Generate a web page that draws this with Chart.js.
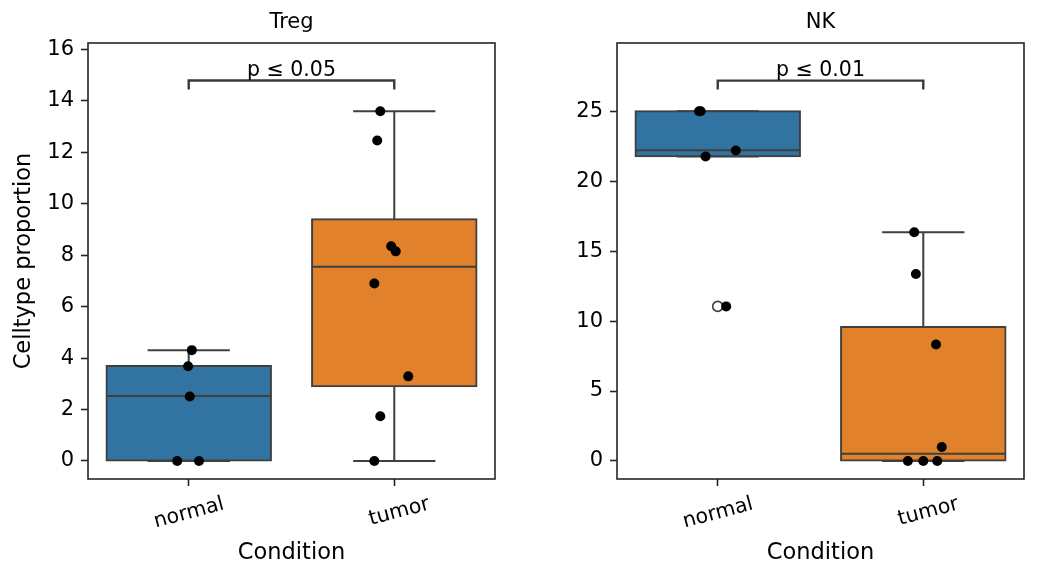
<!DOCTYPE html>
<html>
<head>
<meta charset="utf-8">
<script src="https://cdn.jsdelivr.net/npm/chart.js@4.4.1/dist/chart.umd.min.js"></script>
<style>
  html, body { margin: 0; padding: 0; background: #fff; }
  #wrap { position: relative; width: 1039px; height: 578px; }
  .panel { position: absolute; top: 0; }
</style>
</head>
<body>
<div id="wrap">
  <div class="panel" style="left:0"><canvas id="tregChart" width="520" height="578"></canvas></div>
  <div class="panel" style="left:530px"><canvas id="nkChart" width="509" height="578"></canvas></div>
</div>
<script>
// categories shared by both panels
const categories = ['normal', 'tumor'];

// Treg box statistics (normal, tumor)
const tregQ1 = [0, 2.91];
const tregMedian = [2.53, 7.55];
const tregQ3 = [3.69, 9.40];
const tregWhiskerLow = [0, 0];
const tregWhiskerHigh = [4.31, 13.60];
const tregOutliers = [[], []];

// Treg strip points + horizontal jitter
const tregNormalValues = [4.31, 3.68, 2.51, 0, 0];
const tregNormalJitter = [0.015, -0.003, 0.005, -0.056, 0.05];
const tregTumorValues = [13.60, 12.46, 8.35, 8.15, 6.90, 3.29, 1.74, 0];
const tregTumorJitter = [-0.068, -0.083, -0.015, 0.007, -0.097, 0.068, -0.068, -0.097];

// NK box statistics (normal, tumor)
const nkQ1 = [21.79, 0];
const nkMedian = [22.21, 0.52];
const nkQ3 = [25.0, 9.57];
const nkWhiskerLow = [21.76, 0];
const nkWhiskerHigh = [25.0, 16.35];
const nkOutliers = [[11.05], []];

// NK strip points
const nkNormalValues = [25.0, 25.0, 21.76, 22.19, 11.05];
const nkNormalJitter = [-0.091, -0.083, -0.059, 0.088, 0.041];
const nkTumorValues = [16.35, 13.36, 8.33, 1.0, 0, 0, 0];
const nkTumorJitter = [-0.044, -0.036, 0.062, 0.09, -0.075, 0, 0.068];

// significance brackets
const pLabels = ['p \u2264 0.05', 'p \u2264 0.01'];
const bracketLow = [14.44, 26.55];
const bracketHigh = [14.79, 27.19];

const FONT = '"DejaVu Sans", sans-serif';
const boxColors = ['#3274a1', '#e1812c'];
const edgeColor = '#3f3f3f';
const frameColor = '#262626';
const BOX_HALF = 0.4;
const CAP_HALF = 0.2;

function stripData(values, jitter, index) {
    return values.map((v, i) => ({ x: index + jitter[i], y: v }));
}

// flatten [a, b] pairs into one line with gaps between them
function segments(pairs) {
    const out = [];
    pairs.forEach(([a, b]) => {
        out.push(a, b, { x: b.x, y: null });
    });
    return out;
}

// draws the frame, the panel title and the p-value text
const panelDecor = {
    id: 'panelDecor',
    afterDraw(chart, args, opts) {
        const { ctx, chartArea: a, scales: { x, y } } = chart;
        ctx.save();
        ctx.strokeStyle = frameColor;
        ctx.lineWidth = 1.6;
        ctx.strokeRect(a.left, a.top, a.right - a.left, a.bottom - a.top);

        ctx.fillStyle = '#000';
        ctx.textAlign = 'center';
        ctx.font = '21px ' + FONT;
        ctx.textBaseline = 'middle';
        ctx.fillText(opts.title, (a.left + a.right) / 2, 23);

        ctx.font = '20.5px ' + FONT;
        ctx.textBaseline = 'alphabetic';
        ctx.fillText(opts.pLabel, x.getPixelForValue(0.5), y.getPixelForValue(opts.bracketTop) - 5);
        ctx.restore();
    }
};

function buildPanel(canvasId, p) {
    const medianPairs = [];
    const whiskerPairs = [];
    categories.forEach((c, i) => {
        medianPairs.push([{ x: i - BOX_HALF, y: p.median[i] }, { x: i + BOX_HALF, y: p.median[i] }]);
        whiskerPairs.push([{ x: i, y: p.q3[i] }, { x: i, y: p.high[i] }]);
        whiskerPairs.push([{ x: i, y: p.low[i] }, { x: i, y: p.q1[i] }]);
        whiskerPairs.push([{ x: i - CAP_HALF, y: p.high[i] }, { x: i + CAP_HALF, y: p.high[i] }]);
        whiskerPairs.push([{ x: i - CAP_HALF, y: p.low[i] }, { x: i + CAP_HALF, y: p.low[i] }]);
    });

    const outlierData = [];
    p.outliers.forEach((list, i) => list.forEach(v => outlierData.push({ x: i, y: v })));

    const datasets = [
        {
            label: 'points',
            data: stripData(p.normalValues, p.normalJitter, 0).concat(stripData(p.tumorValues, p.tumorJitter, 1)),
            backgroundColor: '#000',
            borderWidth: 0,
            pointRadius: 5,
            order: 0
        },
        {
            label: 'bracket',
            data: [
                { x: 0, y: p.bracketLow }, { x: 0, y: p.bracketHigh },
                { x: 1, y: p.bracketHigh }, { x: 1, y: p.bracketLow }
            ],
            showLine: true,
            borderColor: '#3a3a3a',
            borderWidth: 2.4,
            pointRadius: 0,
            order: 1
        },
        {
            label: 'outliers',
            data: outlierData,
            backgroundColor: 'rgba(0,0,0,0)',
            borderColor: edgeColor,
            borderWidth: 1.6,
            pointRadius: 5,
            order: 2
        },
        {
            label: 'medians',
            data: segments(medianPairs),
            showLine: true,
            borderColor: edgeColor,
            borderWidth: 2,
            pointRadius: 0,
            order: 3
        },
        {
            type: 'bar',
            label: 'boxes',
            data: categories.map((c, i) => ({ x: i, y: [p.q1[i], p.q3[i]] })),
            backgroundColor: boxColors,
            borderColor: edgeColor,
            borderWidth: 2,
            borderSkipped: false,
            inflateAmount: 1,
            barPercentage: 1,
            categoryPercentage: 0.8,
            order: 4
        },
        {
            label: 'whiskers',
            data: segments(whiskerPairs),
            showLine: true,
            borderColor: edgeColor,
            borderWidth: 2,
            pointRadius: 0,
            order: 5
        }
    ];

    return new Chart(document.getElementById(canvasId), {
        type: 'scatter',
        data: { datasets },
        plugins: [panelDecor],
        options: {
            responsive: false,
            animation: false,
            events: [],
            layout: { padding: { top: 43, right: p.padRight, left: 0, bottom: 0 } },
            plugins: {
                legend: { display: false },
                tooltip: { enabled: false },
                panelDecor: { title: p.title, pLabel: p.pLabel, bracketTop: p.bracketHigh }
            },
            scales: {
                x: {
                    type: 'linear',
                    min: -0.49,
                    max: 1.49,
                    offset: false,
                    border: { display: false },
                    grid: { offset: false, drawOnChartArea: false, drawTicks: true, tickLength: 7, tickWidth: 1.6, tickColor: frameColor },
                    ticks: {
                        stepSize: 1,
                        includeBounds: false,
                        minRotation: 15,
                        maxRotation: 15,
                        labelOffset: 35,
                        padding: 6,
                        color: '#000',
                        font: { family: FONT, size: 20.5 },
                        callback: v => categories[v] !== undefined ? categories[v] : ''
                    },
                    title: { display: true, text: 'Condition', color: '#000', font: { family: FONT, size: 22.5 }, padding: { top: 0, bottom: 11 } },
                    afterFit: s => { s.height = 99; }
                },
                y: {
                    type: 'linear',
                    min: p.yMin,
                    max: p.yMax,
                    border: { display: false },
                    grid: { drawOnChartArea: false, drawTicks: true, tickLength: 7, tickWidth: 1.6, tickColor: frameColor },
                    ticks: {
                        stepSize: p.yStep,
                        includeBounds: false,
                        padding: 7,
                        color: '#000',
                        font: { family: FONT, size: 21 }
                    },
                    title: { display: !!p.yTitle, text: p.yTitle || '', color: '#000', font: { family: FONT, size: 22.5 }, padding: { top: 11, bottom: 0 } },
                    afterFit: s => { s.width = p.yWidth; }
                }
            }
        }
    });
}

buildPanel('tregChart', {
    title: 'Treg', yTitle: 'Celltype proportion', yWidth: 88, padRight: 25,
    yMin: -0.7, yMax: 16.25, yStep: 2,
    q1: tregQ1, median: tregMedian, q3: tregQ3, low: tregWhiskerLow, high: tregWhiskerHigh,
    outliers: tregOutliers,
    normalValues: tregNormalValues, normalJitter: tregNormalJitter,
    tumorValues: tregTumorValues, tumorJitter: tregTumorJitter,
    pLabel: pLabels[0], bracketLow: bracketLow[0], bracketHigh: bracketHigh[0]
});

buildPanel('nkChart', {
    title: 'NK', yTitle: '', yWidth: 87, padRight: 15,
    yMin: -1.29, yMax: 29.88, yStep: 5,
    q1: nkQ1, median: nkMedian, q3: nkQ3, low: nkWhiskerLow, high: nkWhiskerHigh,
    outliers: nkOutliers,
    normalValues: nkNormalValues, normalJitter: nkNormalJitter,
    tumorValues: nkTumorValues, tumorJitter: nkTumorJitter,
    pLabel: pLabels[1], bracketLow: bracketLow[1], bracketHigh: bracketHigh[1]
});
</script>
</body>
</html>
